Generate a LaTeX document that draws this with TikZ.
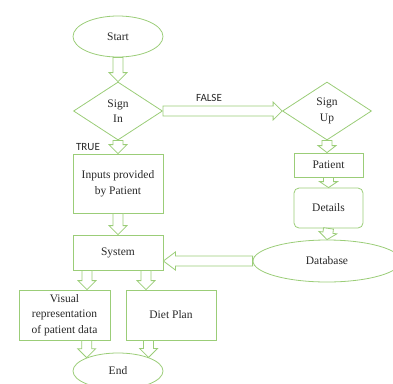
\documentclass[tikz,border=0pt]{standalone}
\usepackage{fontspec}
\setmainfont{Liberation Serif}
\newfontfamily\lblfont{Carlito}
\usetikzlibrary{shapes.geometric,calc}
\definecolor{grn}{RGB}{155,205,120}
\definecolor{txt}{RGB}{40,40,40}
\tikzset{
  base/.style={draw=grn, line width=0.8pt, fill=white, text=txt, align=center,
    font=\fontsize{11.5}{15.5}\selectfont, inner sep=0pt},
  boxn/.style={base, rectangle, minimum width=#1},
  oval/.style={base, ellipse},
  dia/.style={base, diamond, minimum width=89pt, minimum height=58pt},
  lbl/.style={text=txt, font=\lblfont\fontsize{11}{13}\selectfont, inner sep=0pt},
  blk/.style={draw=grn, line width=0.8pt, fill=white, line join=miter,
    to path={
      ($(\tikztostart)!5pt!90:(\tikztotarget)$)
      -- ($($(\tikztotarget)!#1!(\tikztostart)$)!5pt!-90:(\tikztostart)$)
      -- ($($(\tikztotarget)!#1!(\tikztostart)$)!9pt!-90:(\tikztostart)$)
      -- (\tikztotarget)
      -- ($($(\tikztotarget)!#1!(\tikztostart)$)!9pt!90:(\tikztostart)$)
      -- ($($(\tikztotarget)!#1!(\tikztostart)$)!5pt!90:(\tikztostart)$)
      -- ($(\tikztostart)!5pt!-90:(\tikztotarget)$)
      -- cycle}},
  blk/.default=9pt
}
\begin{document}
\begin{tikzpicture}[x=1pt,y=-1pt]
\useasboundingbox (0,0) rectangle (393,383);
% nodes
\node[oval, minimum width=90pt, minimum height=41pt] (start) at (118,36.5) {Start};
\node[dia] (signin) at (118,111) {Sign\\In};
\node[dia] (signup) at (327,111) {Sign\\Up};
\node[boxn=90pt, minimum height=59pt] (inputs) at (118,183.5) {Inputs provided\\by Patient};
\node[boxn=90pt, minimum height=35pt] (system) at (118,252.5) {System};
\node[boxn=91pt, minimum height=50pt] (visual) at (64.5,315) {Visual\\representation\\of patient data};
\node[boxn=90pt, minimum height=50pt] (diet) at (171,315) {Diet Plan};
\node[oval, minimum width=90pt, minimum height=36pt] (end) at (118,371) {End};
\node[boxn=69pt, minimum height=24pt] (patient) at (328.5,165) {Patient};
\node[boxn=69pt, minimum height=40pt, rounded corners=5pt] (details) at (328.5,208) {Details};
\node[oval, minimum width=148pt, minimum height=42pt] (db) at (327,261) {Database};
% labels
\node[lbl] (true) at (88,147) {TRUE};
\node[lbl] (false) at (209,98) {FALSE};
% helper coordinates
\coordinate (sysL) at (87,0);
\coordinate (sysR) at (146,0);
\coordinate (s1) at (system.south -| sysL);
\coordinate (v1) at (visual.north -| sysL);
\coordinate (s2) at (system.south -| sysR);
\coordinate (d2) at (diet.north -| sysR);
\coordinate (v2) at (end.157 |- visual.south);
\coordinate (d3) at (end.24 |- diet.south);
\coordinate (dbS) at (system.east |- db.west);
\coordinate (pu) at (patient.north -| signup.south);
% connectors
\draw[blk] (start.south) to (signin.north);
\draw[blk] (signin.south) to (inputs.north);
\draw[blk] (inputs.south) to (system.north);
\draw[blk] (s1) to (v1);
\draw[blk] (s2) to (d2);
\draw[blk] (v2) to (end.157);
\draw[blk] (d3) to (end.24);
\draw[blk] (signin.east) to (signup.west);
\draw[blk=7pt] (signup.south) to (pu);
\draw[blk=6pt] (patient.south) to (details.north);
\draw[blk=7pt] (details.south) to (db.north);
\draw[blk=12pt] (db.west) to (dbS);
\end{tikzpicture}
\end{document}
